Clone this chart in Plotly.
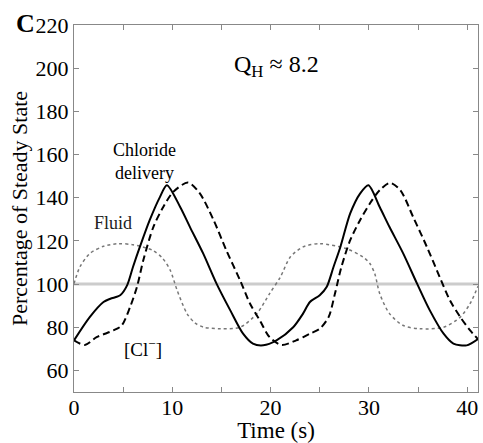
import plotly.graph_objects as go

# chloride delivery (solid)
t_delivery = [0, 1.6, 3.0, 3.7, 4.7, 5.4, 6.0, 6.7, 7.7, 8.75, 9.45, 10.8, 11.8, 13.15,
              14.5, 15.9, 17.2, 18.2, 19.25, 20.6, 22.3, 23.3, 24.0, 25.0, 25.7, 26.4,
              27.1, 28.1, 29.1, 29.95, 31.1, 32.1, 33.5, 34.9, 36.2, 37.6, 38.6, 39.95, 41.1]
y_delivery = [73.9, 84.7, 91.7, 93.2, 94.8, 99.4, 107.9, 117.2, 129.6, 140.4, 145.8, 135.7,
              126.4, 114.1, 100.2, 87.8, 77.0, 72.4, 71.6, 73.9, 80.0, 86.3, 91.7, 94.8,
              98.6, 107.9, 117.2, 132.7, 141.9, 145.8, 135.7, 126.4, 114.1, 100.2, 87.8,
              77.0, 72.4, 71.6, 74.5]

# [Cl-] (dashed)
t_cl = [0, 1.1, 2.3, 4.0, 4.85, 5.7, 6.4, 7.05, 8.07, 9.08, 10.1, 11.6, 12.8, 14.2, 15.5,
        16.9, 17.9, 18.9, 19.9, 21.1, 22.6, 24.0, 25.0, 25.9, 26.55, 27.2, 28.1, 29.1,
        30.1, 31.1, 32.15, 33.2, 34.5, 35.9, 37.2, 38.25, 39.3, 40.3, 41.1]
y_cl = [73.9, 71.8, 75.4, 78.5, 80.8, 89.3, 98.6, 111.0, 126.4, 135.7, 142.7, 147.0, 142.0,
        129.6, 115.6, 101.7, 91.0, 83.2, 75.4, 71.8, 73.9, 77.0, 79.3, 84.7, 95.6, 107.9,
        120.3, 129.6, 137.3, 143.5, 146.9, 143.5, 131.1, 117.2, 103.3, 92.4, 84.7, 78.5, 74.5]

# fluid (dotted)
t_fluid = [0, 0.6, 1.6, 3.0, 4.5, 6.0, 8.0, 9.0, 9.8, 10.5, 11.5, 12.3, 13.2, 14.9, 16.9,
           18.6, 19.9, 21.0, 22.0, 23.3, 25.0, 27.7, 29.4, 30.1, 30.6, 31.1, 32.1, 33.5,
           35.2, 37.6, 39.3, 40.3, 41.1]
y_fluid = [100.2, 107.9, 114.1, 117.5, 118.7, 118.2, 115.6, 112.0, 106.3, 97.0, 86.3, 82.0,
           80.0, 79.3, 80.0, 86.3, 95.6, 103.3, 112.5, 117.2, 118.7, 116.4, 112.5, 109.5,
           104.8, 95.6, 86.3, 80.8, 79.3, 80.0, 84.7, 91.0, 99.0]

t_steady = [0, 41.1]
y_steady = [100, 100]

x_ticks = [0, 10, 20, 30, 40]
y_ticks = [60, 80, 100, 120, 140, 160, 180, 200, 220]

serif = "Liberation Serif, Times New Roman, serif"

fig = go.Figure()
fig.add_trace(go.Scatter(x=t_steady, y=y_steady, mode="lines",
                         line=dict(color="#cccccc", width=3)))
fig.add_trace(go.Scatter(x=t_fluid, y=y_fluid, mode="lines",
                         line=dict(color="#777777", width=1.5, dash="dot", shape="spline", smoothing=0.8)))
fig.add_trace(go.Scatter(x=t_cl, y=y_cl, mode="lines",
                         line=dict(color="black", width=2, dash="7px,4px", shape="spline", smoothing=0.8)))
fig.add_trace(go.Scatter(x=t_delivery, y=y_delivery, mode="lines",
                         line=dict(color="black", width=2, shape="spline", smoothing=0.8)))

axis_common = dict(showline=True, linecolor="#888888", linewidth=1, mirror="ticks",
                   ticks="inside", ticklen=5, tickcolor="#888888", showgrid=False,
                   zeroline=False, tickfont=dict(family=serif, size=22, color="black"))

fig.update_xaxes(range=[0, 41.1], tickvals=x_ticks, ticklabelstandoff=-4, automargin=False,
                 minor=dict(dtick=5, ticks="inside", ticklen=5, tickcolor="#888888"),
                 title=dict(text="Time (s)", font=dict(family=serif, size=23, color="black")),
                 **axis_common)
fig.update_yaxes(range=[50, 220], tickvals=y_ticks, automargin=True,
                 title=dict(text="Percentage of Steady State", standoff=1,
                            font=dict(family=serif, size=22, color="black")),
                 **axis_common)

annotations = [
    dict(x=-0.121, y=1.05, xref="paper", yref="paper", xanchor="center", yanchor="top",
         text="<b>C</b>", showarrow=False, font=dict(family=serif, size=26, color="black")),
    dict(x=20.6, y=201, text="Q<sub>H</sub>\u00a0≈\u00a08.2", showarrow=False,
         font=dict(family=serif, size=24, color="black")),
    dict(x=7.2, y=157, text="Chloride<br>delivery", showarrow=False,
         font=dict(family=serif, size=18, color="black")),
    dict(x=4.0, y=128.5, text="Fluid", showarrow=False,
         font=dict(family=serif, size=18, color="#222222")),
    dict(x=7.0, y=70.2, text="[Cl<sup>−</sup>]", showarrow=False,
         font=dict(family=serif, size=19, color="black")),
]

fig.update_layout(width=483, height=443, margin=dict(l=74, r=5, t=25, b=51),
                  plot_bgcolor="white", paper_bgcolor="white", showlegend=False,
                  annotations=annotations)

# drop the page's default body margin so the figure fills the window exactly
fig.write_html("out.html", config={"displayModeBar": False},
               post_script="document.body.style.margin = '0';")
